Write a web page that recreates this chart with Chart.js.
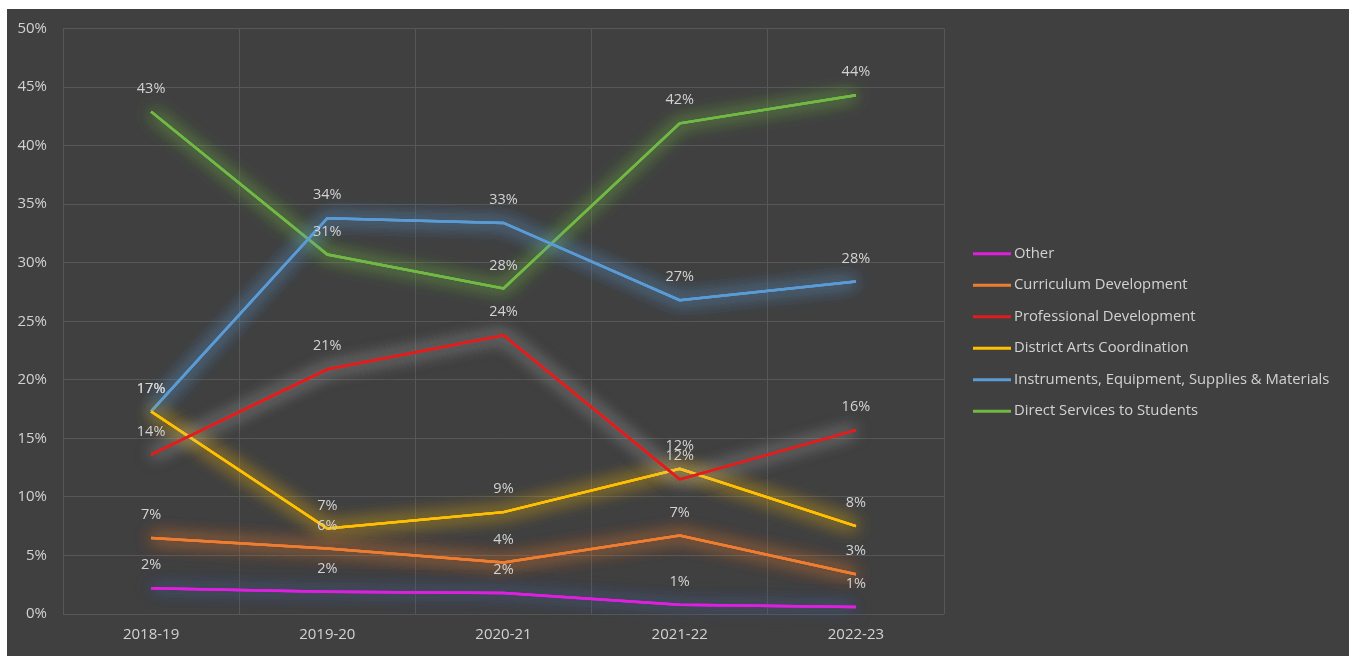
<!DOCTYPE html>
<html>
<head>
<meta charset="utf-8">
<title>Distribución del gasto por categoría</title>
<script src="https://cdn.jsdelivr.net/npm/chart.js@4/dist/chart.umd.min.js"></script>
<style>
    html, body { margin: 0; padding: 0; background: #ffffff; }
    #marco {
        position: absolute;
        left: 7px;
        top: 9px;
        width: 1342px;
        height: 647px;
        background: #404040;
    }
</style>
</head>
<body>
<div id="marco"><canvas id="grafico"></canvas></div>
<script>
// Datos (porcentaje del total por año escolar)
const years = ['2018-19', '2019-20', '2020-21', '2021-22', '2022-23'];
const seriesNames = [
    'Other',
    'Curriculum Development',
    'Professional Development',
    'District Arts Coordination',
    'Instruments, Equipment, Supplies & Materials',
    'Direct Services to Students'
];
const other = [2.2, 1.9, 1.8, 0.8, 0.6];
const curriculum = [6.5, 5.6, 4.4, 6.7, 3.4];
const professional = [13.6, 20.9, 23.8, 11.5, 15.7];
const districtArts = [17.3, 7.3, 8.7, 12.4, 7.5];
const instruments = [17.3, 33.8, 33.4, 26.8, 28.4];
const directServices = [42.9, 30.7, 27.8, 41.9, 44.3];
const yTicks = [0, 5, 10, 15, 20, 25, 30, 35, 40, 45, 50];

// Estilos
const colores = ['#e01ee0', '#ed7d31', '#e41b1b', '#ffc000', '#5b9bd5', '#72b845'];
const brillos = [
    'rgba(70, 95, 150, 0.95)',
    'rgba(237, 125, 49, 0.9)',
    'rgba(205, 205, 205, 0.6)',
    'rgba(255, 192, 0, 0.9)',
    'rgba(91, 155, 213, 0.95)',
    'rgba(114, 184, 69, 0.95)'
];
const colorTexto = '#d2d2d2';
const fuente = '"Open Sans", sans-serif';

const valores = [other, curriculum, professional, districtArts, instruments, directServices];

// Resplandor alrededor de cada línea
const brillo = {
    id: 'brillo',
    beforeDatasetDraw(chart, args) {
        const ctx = chart.ctx;
        ctx.save();
        ctx.shadowColor = brillos[args.index];
        ctx.shadowBlur = 18;
        // dos pasadas extra para reforzar el halo
        args.meta.dataset.draw(ctx, chart.chartArea);
        args.meta.dataset.draw(ctx, chart.chartArea);
    },
    afterDatasetDraw(chart) {
        chart.ctx.restore();
    }
};

// Etiquetas de valor encima de cada punto
const etiquetasDatos = {
    id: 'etiquetasDatos',
    afterDatasetsDraw(chart) {
        const ctx = chart.ctx;
        ctx.save();
        ctx.font = '14.5px ' + fuente;
        ctx.fillStyle = colorTexto;
        ctx.textAlign = 'center';
        ctx.textBaseline = 'middle';
        chart.data.datasets.forEach((ds, i) => {
            chart.getDatasetMeta(i).data.forEach((pt, j) => {
                ctx.fillText(Math.round(ds.data[j]) + '%', pt.x, pt.y - 23);
            });
        });
        ctx.restore();
    }
};

// Leyenda vertical a la derecha del área de trazado
const leyenda = {
    id: 'leyenda',
    afterDraw(chart) {
        const ctx = chart.ctx;
        const paso = 31.5;
        const n = chart.data.datasets.length;
        const y0 = chart.height / 2 - paso * (n - 1) / 2;
        const x0 = chart.chartArea.right + 29;
        ctx.save();
        ctx.font = '14.8px ' + fuente;
        ctx.textAlign = 'left';
        ctx.textBaseline = 'middle';
        chart.data.datasets.forEach((ds, i) => {
            const y = y0 + i * paso;
            ctx.strokeStyle = ds.borderColor;
            ctx.lineWidth = 3;
            ctx.beginPath();
            ctx.moveTo(x0, y);
            ctx.lineTo(x0 + 38, y);
            ctx.stroke();
            ctx.fillStyle = colorTexto;
            ctx.fillText(ds.label, x0 + 41, y);
        });
        ctx.restore();
    }
};

const grafico = new Chart(document.getElementById('grafico'), {
    type: 'line',
    data: {
        labels: years,
        datasets: seriesNames.map((nombre, i) => ({
            label: nombre,
            data: valores[i],
            borderColor: colores[i],
            backgroundColor: colores[i],
            borderWidth: 2.5,
            pointRadius: 0,
            tension: 0
        }))
    },
    options: {
        responsive: true,
        maintainAspectRatio: false,
        animation: false,
        layout: { padding: { left: 0, top: 0, right: 405, bottom: 0 } },
        plugins: {
            legend: { display: false },
            tooltip: { enabled: false }
        },
        scales: {
            x: {
                offset: true,
                grid: { offset: true, color: '#575757', drawTicks: false },
                border: { display: false },
                ticks: { color: colorTexto, font: { family: fuente, size: 15 }, padding: 12 }
            },
            y: {
                min: 0,
                max: 50,
                afterBuildTicks: axis => { axis.ticks = yTicks.map(v => ({ value: v })); },
                afterFit: axis => {
                    axis.width = 56;
                    axis.paddingTop = 19.5;
                    axis.paddingBottom = 0;
                },
                grid: { color: '#575757', drawTicks: false },
                border: { display: false },
                ticks: {
                    color: colorTexto,
                    font: { family: fuente, size: 15 },
                    padding: 16,
                    callback: v => v + '%'
                }
            }
        }
    },
    plugins: [brillo, etiquetasDatos, leyenda]
});
</script>
</body>
</html>
